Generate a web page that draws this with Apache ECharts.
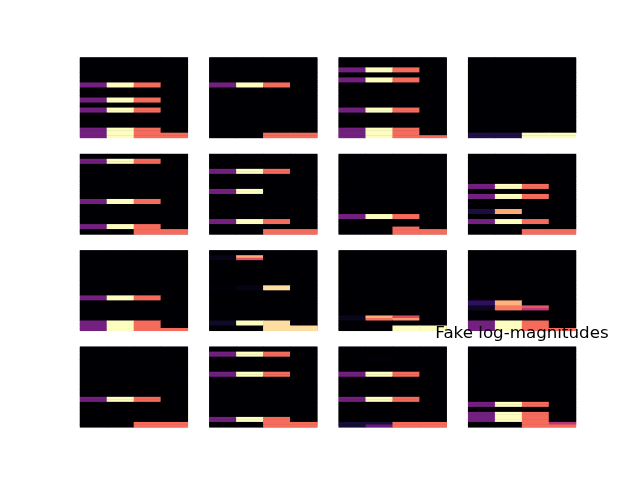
<!DOCTYPE html>
<html>
<head>
<meta charset="utf-8">
<script src="https://cdn.jsdelivr.net/npm/echarts@6/dist/echarts.min.js"></script>
<style>
  html, body { margin: 0; padding: 0; background: #fff; }
  #main { width: 640px; height: 480px; }
</style>
</head>
<body>
<div id="main"></div>
<script>
// each panel: 4 columns x 32 half-rows, values normalised 0..1 (magma)
// entries: [firstHalfRow, halfRowCount, col0, col1, col2, col3]; rows not listed are 0
var cols = ['0', '1', '2', '3'];
var nRows = 32;
var titleText = 'Fake log-magnitudes';

var P = 0.34, Y = 1, S = 0.69;

var panel11 = [[10, 2, P, Y, S, 0], [16, 2, P, Y, S, 0], [20, 2, P, Y, S, 0], [28, 2, P, Y, S, 0], [30, 2, P, Y, S, S]];
var panel12 = [[10, 2, P, Y, S, 0], [30, 2, 0, 0, S, S]];
var panel13 = [[4, 2, P, Y, S, 0], [8, 2, P, Y, S, 0], [20, 2, P, Y, S, 0], [28, 3, P, Y, S, 0], [31, 1, P, Y, S, S]];
var panel14 = [[30, 2, 0.13, 0.13, 1, 1]];
var panel21 = [[2, 2, P, Y, S, 0], [18, 2, P, Y, S, 0], [28, 2, P, Y, S, 0], [30, 2, 0, 0, S, S]];
var panel22 = [[6, 2, P, Y, S, 0], [14, 2, P, Y, 0, 0], [26, 2, P, Y, S, 0], [30, 2, 0, 0, S, S]];
var panel23 = [[24, 2, P, Y, S, 0], [29, 1, 0, 0, S, 0], [30, 2, 0, 0, S, S]];
var panel24 = [[12, 2, P, Y, S, 0], [16, 2, P, Y, S, 0], [22, 2, 0.12, 0.82, 0, 0], [26, 2, P, Y, S, 0], [30, 2, 0, 0, S, S]];
var panel31 = [[18, 2, P, Y, S, 0], [28, 3, P, Y, S, 0], [31, 1, P, Y, S, S]];
var panel32 = [[2, 1, 0.04, 0.83, 0, 0], [3, 1, 0.04, 0.62, 0, 0], [14, 2, 0.01, 0.03, 0.93, 0], [28, 2, 0.07, 1, 0.93, 0], [30, 2, 0, 0, 0.93, 0.93]];
var panel33 = [[26, 1, 0.05, 0.83, 0.6, 0], [27, 1, 0.05, 0.7, 0.78, 0], [30, 2, 0, 0, 1, 1]];
var panel34 = [[20, 2, 0.17, 0.84, 0, 0], [22, 1, 0.06, 0.72, 0.64, 0], [23, 1, 0.06, 0.72, 0.52, 0], [28, 3, P, Y, S, 0], [31, 1, P, Y, S, S]];
var panel41 = [[20, 2, P, Y, S, 0], [30, 2, 0, 0, S, S]];
var panel42 = [[2, 2, P, Y, S, 0], [10, 2, P, Y, S, 0], [28, 2, P, Y, S, 0], [30, 2, 0, 0, S, S]];
var panel43 = [[4, 2, 0, 0.01, 0, 0], [10, 2, P, Y, S, 0], [20, 2, P, Y, S, 0], [30, 1, 0.1, 0.1, S, S], [31, 1, 0.1, 0.3, S, S]];
var panel44 = [[22, 2, P, Y, S, 0], [26, 4, P, Y, S, 0], [30, 1, 0, 0, S, 0.5], [31, 1, 0, 0, S, S]];

var panels = [
  panel11, panel12, panel13, panel14,
  panel21, panel22, panel23, panel24,
  panel31, panel32, panel33, panel34,
  panel41, panel42, panel43, panel44
];

var magma = ['#000004', '#140e36', '#3b0f70', '#641a80', '#8c2981', '#b73779',
             '#de4968', '#f7705c', '#fe9f6d', '#fecf92', '#fcfdbf'];

function expand(spans) {
  var grid = [];
  for (var r = 0; r < nRows; r++) grid.push([0, 0, 0, 0]);
  spans.forEach(function (s) {
    for (var k = 0; k < s[1]; k++) {
      grid[s[0] + k] = [s[2], s[3], s[4], s[5]];
    }
  });
  var out = [];
  for (var r2 = 0; r2 < nRows; r2++) {
    for (var c = 0; c < 4; c++) out.push([c, r2, grid[r2][c]]);
  }
  return out;
}

var rowCats = [];
for (var i = 0; i < nRows; i++) rowCats.push(String(i));

// matplotlib subplot layout: left .125, right .9, bottom .11, top .88, spacing .2
var figW = 640, figH = 480;
var axW = (0.775 * figW) / 4.6, axH = (0.77 * figH) / 4.6;

var grids = [], xAxes = [], yAxes = [], series = [];
panels.forEach(function (p, idx) {
  var row = Math.floor(idx / 4), col = idx % 4;
  grids.push({
    left: 0.125 * figW + col * axW * 1.2,
    top: 0.12 * figH + row * axH * 1.2,
    width: axW,
    height: axH,
    show: true,
    borderWidth: 0,
    backgroundColor: '#000004'
  });
  xAxes.push({
    type: 'category', gridIndex: idx, data: cols,
    axisLine: { show: false }, axisTick: { show: false },
    axisLabel: { show: false }, splitLine: { show: false }
  });
  yAxes.push({
    type: 'category', gridIndex: idx, data: rowCats, inverse: true,
    axisLine: { show: false }, axisTick: { show: false },
    axisLabel: { show: false }, splitLine: { show: false }
  });
  series.push({
    type: 'heatmap', xAxisIndex: idx, yAxisIndex: idx,
    data: expand(p), animation: false,
    itemStyle: { borderWidth: 0 },
    emphasis: { disabled: true }
  });
});

var myChart = echarts.init(document.getElementById('main'));
var option = {
  backgroundColor: '#ffffff',
  animation: false,
  graphic: [{
    type: 'text',
    x: 522, y: 325,
    z: 100,
    style: {
      text: titleText,
      align: 'center',
      verticalAlign: 'top',
      fontFamily: 'DejaVu Sans',
      fontSize: 16.7,
      fill: '#000'
    }
  }],
  grid: grids,
  xAxis: xAxes,
  yAxis: yAxes,
  visualMap: {
    type: 'continuous', show: false, min: 0, max: 1,
    seriesIndex: series.map(function (s, k) { return k; }),
    inRange: { color: magma }
  },
  series: series
};
myChart.setOption(option);
</script>
</body>
</html>
